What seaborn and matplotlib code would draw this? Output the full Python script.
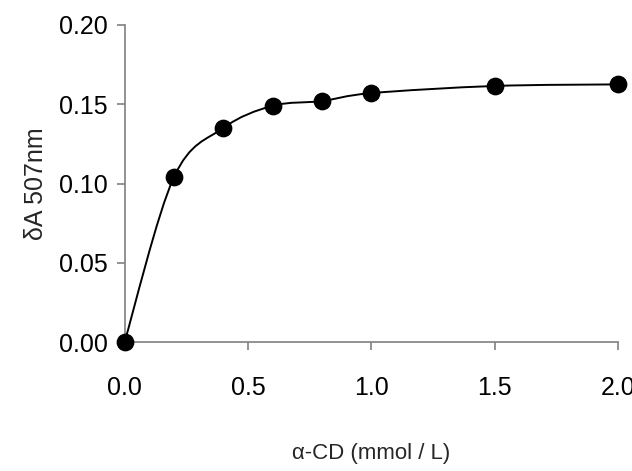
import numpy as np
import matplotlib
matplotlib.use("Agg")
import matplotlib.pyplot as plt
from matplotlib.path import Path
from matplotlib.patches import PathPatch
import seaborn as sns

# data
conc = [0.0, 0.2, 0.4, 0.6, 0.8, 1.0, 1.5, 2.0]
delta_a = [0.0, 0.104, 0.135, 0.149, 0.152, 0.157, 0.1615, 0.1625]
x_ticks = [0.0, 0.5, 1.0, 1.5, 2.0]
y_ticks = [0.00, 0.05, 0.10, 0.15, 0.20]

sns.set_style("ticks")
plt.rcParams['font.family'] = ['Liberation Sans', 'DejaVu Sans']

fig = plt.figure(figsize=(6.32, 4.71), dpi=100)
ax = fig.add_axes([0.197, 0.2732, 0.781, 0.674])

# smoothed line (Excel-style bezier through the points)
pts = np.column_stack([conc, delta_a])
verts = [pts[0]]
codes = [Path.MOVETO]
n = len(pts)
for i in range(n - 1):
    p0 = pts[max(i - 1, 0)]
    p1 = pts[i]
    p2 = pts[i + 1]
    p3 = pts[min(i + 2, n - 1)]
    verts += [p1 + (p2 - p0) / 6, p2 - (p3 - p1) / 6, p2]
    codes += [Path.CURVE4] * 3
ax.add_patch(PathPatch(Path(verts, codes), facecolor='none',
                       edgecolor='black', lw=1.4, zorder=2))

sns.scatterplot(x=conc, y=delta_a, ax=ax, color='black', s=140,
                edgecolor='black', zorder=3, clip_on=False, legend=False)

ax.set_xlim(0, 2.0)
ax.set_ylim(0, 0.20)
ax.set_xticks(x_ticks)
ax.set_xticklabels([f"{t:.1f}" for t in x_ticks])
ax.set_yticks(y_ticks)
ax.set_yticklabels([f"{t:.2f}" for t in y_ticks])

for side in ['top', 'right']:
    ax.spines[side].set_visible(False)
for side in ['left', 'bottom']:
    ax.spines[side].set_color('#808080')
    ax.spines[side].set_linewidth(1.2)

ax.tick_params(axis='both', direction='out', length=6, width=1.2,
               color='#808080', labelsize=18, labelcolor='black')
ax.tick_params(axis='x', pad=18)
ax.tick_params(axis='y', pad=6)

ax.set_xlabel('α-CD (mmol / L)', fontsize=16, labelpad=31)
ax.set_ylabel('δA 507nm', fontsize=18, labelpad=8)

fig.savefig('out.png', dpi=100)
